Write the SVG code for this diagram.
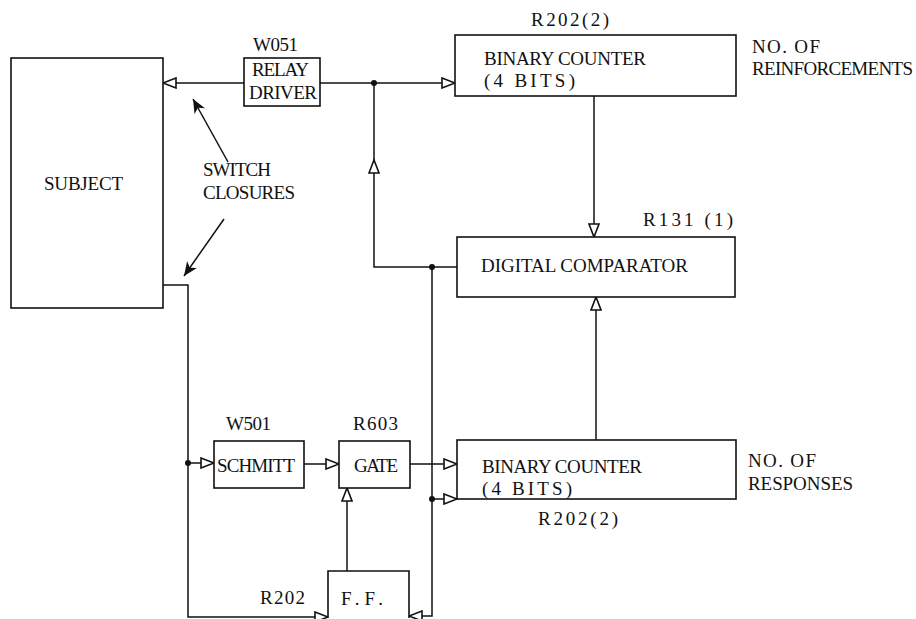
<svg xmlns="http://www.w3.org/2000/svg" width="916" height="619" viewBox="0 0 916 619">
<defs>
<style>
.box{fill:#fff;stroke:#111;stroke-width:1.6}
.ln{fill:none;stroke:#111;stroke-width:1.5}
.ar{marker-end:url(#open)}
text{font-family:"Liberation Serif","Times New Roman",serif;font-size:19px;fill:#111}
.dot{fill:#111}
</style>
<marker id="open" markerUnits="userSpaceOnUse" markerWidth="16" markerHeight="12" refX="14" refY="6" orient="auto">
<path d="M1,1 L14,6 L1,11 Z" fill="#fff" stroke="#111" stroke-width="1.6"/>
</marker>
<marker id="pt" markerUnits="userSpaceOnUse" markerWidth="16" markerHeight="12" refX="14" refY="6" orient="auto">
<path d="M0,0 L14,6 L0,12 L4,6 Z" fill="#111"/>
</marker>
</defs>
<rect width="916" height="619" fill="#fff"/>
<g id="connectors">
<line class="ln ar" x1="244" y1="83" x2="163" y2="83"/>
<line class="ln ar" x1="320" y1="83" x2="455" y2="83"/>
<path class="ln ar" d="M457,267 L374,267 L374,160"/>
<line class="ln" x1="374" y1="160" x2="374" y2="83"/>
<line class="ln ar" x1="594" y1="96" x2="594" y2="237"/>
<line class="ln ar" x1="596" y1="440" x2="596" y2="297"/>
<path class="ln ar" d="M163,285 L188,285 L188,617 L328,617"/>
<line class="ln ar" x1="188" y1="463" x2="214" y2="463"/>
<line class="ln ar" x1="304" y1="464" x2="339" y2="464"/>
<line class="ln ar" x1="410" y1="464" x2="457" y2="464"/>
<line class="ln ar" x1="347" y1="571" x2="347" y2="488"/>
<path class="ln ar" d="M432,267 L432,616 L409,616"/>
<line class="ln ar" x1="432" y1="499" x2="457" y2="499"/>
<line class="ln" x1="228" y1="162" x2="193" y2="99" marker-end="url(#pt)"/>
<line class="ln" x1="224" y1="219" x2="184" y2="276" marker-end="url(#pt)"/>
<circle class="dot" cx="374" cy="83" r="3"/>
<circle class="dot" cx="432" cy="267" r="3"/>
<circle class="dot" cx="188" cy="463" r="3"/>
<circle class="dot" cx="432" cy="499" r="3"/>
</g>
<g id="subject">
<rect class="box" x="11" y="58" width="152" height="250"/>
<text x="44" y="190" textLength="79" lengthAdjust="spacing">SUBJECT</text>
</g>
<g id="switch-label">
<text x="203" y="176" textLength="68" lengthAdjust="spacing">SWITCH</text>
<text x="203" y="199" textLength="92" lengthAdjust="spacing">CLOSURES</text>
</g>
<g id="relay-driver">
<rect class="box" x="244" y="58" width="76" height="48"/>
<text x="253" y="51" textLength="45" lengthAdjust="spacing">W051</text>
<text x="252" y="76" textLength="57" lengthAdjust="spacing">RELAY</text>
<text x="249" y="99" textLength="68" lengthAdjust="spacing">DRIVER</text>
</g>
<g id="counter-reinforcements">
<rect class="box" x="455" y="35" width="281" height="61"/>
<text x="531" y="26" textLength="78" lengthAdjust="spacing">R202(2)</text>
<text x="484" y="65" textLength="162" lengthAdjust="spacing">BINARY COUNTER</text>
<text x="484" y="87" textLength="91" lengthAdjust="spacing">(4 BITS)</text>
<text x="752" y="53" textLength="68" lengthAdjust="spacing">NO. OF</text>
<text x="752" y="75" textLength="161" lengthAdjust="spacing">REINFORCEMENTS</text>
</g>
<g id="comparator">
<rect class="box" x="457" y="237" width="278" height="60"/>
<text x="643" y="226" textLength="90" lengthAdjust="spacing">R131 (1)</text>
<text x="481" y="272" textLength="207" lengthAdjust="spacing">DIGITAL COMPARATOR</text>
</g>
<g id="schmitt">
<rect class="box" x="214" y="441" width="90" height="47"/>
<text x="226" y="430" textLength="45" lengthAdjust="spacing">W501</text>
<text x="217" y="472" textLength="78" lengthAdjust="spacing">SCHMITT</text>
</g>
<g id="gate">
<rect class="box" x="339" y="441" width="71" height="47"/>
<text x="353" y="430" textLength="45" lengthAdjust="spacing">R603</text>
<text x="354" y="472" textLength="44" lengthAdjust="spacing">GATE</text>
</g>
<g id="counter-responses">
<rect class="box" x="457" y="440" width="279" height="59"/>
<text x="482" y="473" textLength="160" lengthAdjust="spacing">BINARY COUNTER</text>
<text x="482" y="495" textLength="90" lengthAdjust="spacing">(4 BITS)</text>
<text x="538" y="525" textLength="80" lengthAdjust="spacing">R202(2)</text>
<text x="748" y="467" textLength="68" lengthAdjust="spacing">NO. OF</text>
<text x="748" y="490" textLength="105" lengthAdjust="spacing">RESPONSES</text>
</g>
<g id="flipflop">
<path class="box" d="M328,618 L328,571 L409,571 L409,618"/>
<text x="260" y="604" textLength="45" lengthAdjust="spacing">R202</text>
<text x="341" y="605" textLength="42" lengthAdjust="spacing">F.F.</text>
</g>
</svg>
